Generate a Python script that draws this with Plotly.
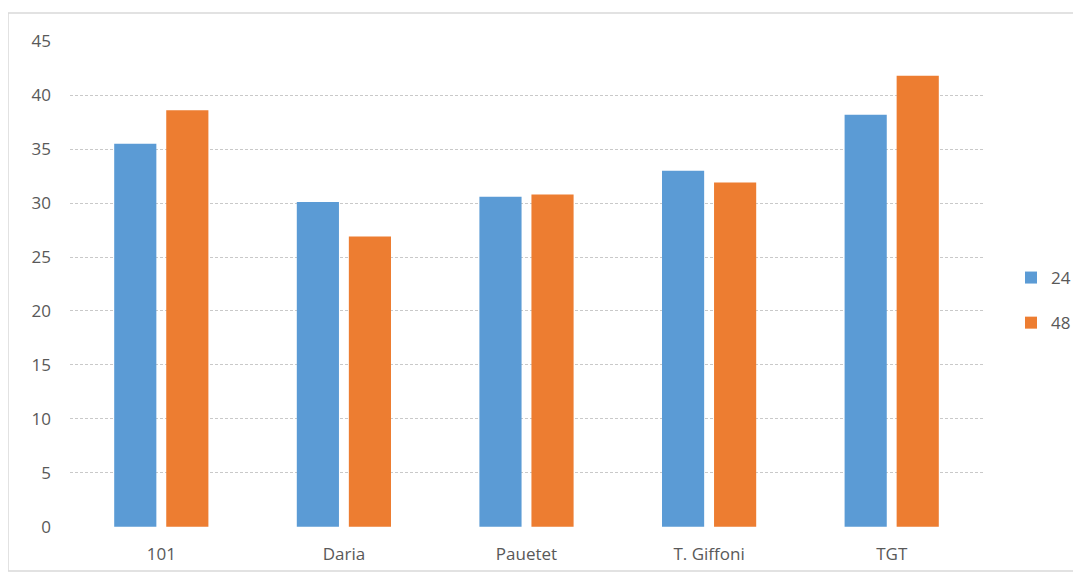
import plotly.graph_objects as go

categories = ["101", "Daria", "Pauetet", "T. Giffoni", "TGT"]
series_24 = [35.5, 30.1, 30.6, 33.0, 38.2]
series_48 = [38.6, 26.9, 30.8, 31.9, 41.8]
y_ticks = [0, 5, 10, 15, 20, 25, 30, 35, 40, 45]

OFF = 8  # page body margin
W, H = 1081 - 2 * OFF, 580 - 2 * OFF
L, T = 70 - OFF, 41 - OFF
R = W - (983 - OFF)
B = H - (527 - OFF)
pw, ph = W - L - R, H - T - B

fig = go.Figure()
fig.add_trace(go.Bar(name="24", x=categories, y=series_24, legendgroup="a",
                     marker=dict(color="#5B9BD5", line=dict(width=0))))
fig.add_trace(go.Bar(name="48", x=categories, y=series_48, legendgroup="b",
                     marker=dict(color="#ED7D31", line=dict(width=0))))

def px_x(p):
    return (p - OFF - L) / pw

def px_y(p):
    return (H - B - (p - OFF)) / ph

fig.update_layout(
    width=W, height=H,
    margin=dict(l=L, r=R, t=T, b=B, autoexpand=False),
    paper_bgcolor="white", plot_bgcolor="white",
    barmode="group", bargap=0.43, bargroupgap=0.19,
    font=dict(family="Open Sans, Liberation Sans, sans-serif", size=17, color="#595959"),
    showlegend=True,
    legend=dict(x=px_x(1011), y=px_y(260), xanchor="left", yanchor="top",
                font=dict(size=17, color="#595959"), tracegroupgap=20,
                itemwidth=30, bgcolor="rgba(0,0,0,0)"),
    shapes=[dict(type="rect", xref="paper", yref="paper",
                 x0=px_x(8), x1=px_x(1095), y0=px_y(571), y1=px_y(13),
                 line=dict(color="#d9d9d9", width=1.5), fillcolor="rgba(0,0,0,0)", layer="below")],
)
fig.update_xaxes(showgrid=False, showline=False, ticks="", tickfont=dict(size=17, color="#595959"),
                 ticklabelstandoff=15, automargin=False)
fig.update_yaxes(range=[-0.03, 45.03], tickvals=y_ticks, showgrid=True, gridcolor="#c9c9c9",
                 griddash="3px,2px", gridwidth=1, zeroline=False, showline=False, ticks="",
                 tickfont=dict(size=17, color="#595959"), ticklabelstandoff=18, automargin=False)

fig.write_html("out.html")
